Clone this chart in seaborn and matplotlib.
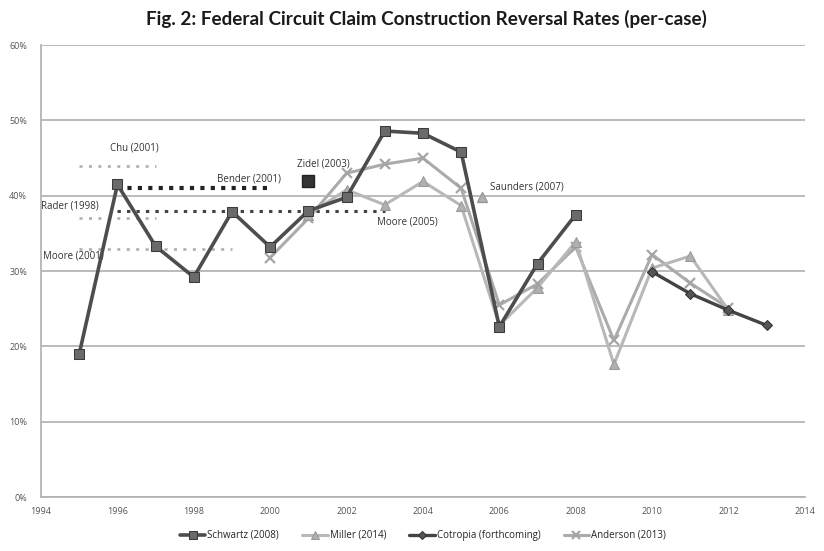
import numpy as np
import pandas as pd
import seaborn as sns
import matplotlib.pyplot as plt

# series (percent)
schwartz_years = [1995, 1996, 1997, 1998, 1999, 2000, 2001, 2002, 2003, 2004, 2005, 2006, 2007, 2008]
schwartz = [19.0, 41.5, 33.3, 29.2, 37.9, 33.2, 38.0, 39.8, 48.6, 48.3, 45.8, 22.6, 31.0, 37.5]

miller_years = [2001, 2002, 2003, 2004, 2005, 2006, 2007, 2008, 2009, 2010, 2011, 2012]
miller = [37.5, 40.8, 38.8, 41.9, 38.7, 22.8, 27.8, 33.9, 17.6, 30.4, 32.0, 24.8]

cotropia_years = [2010, 2011, 2012, 2013]
cotropia = [29.9, 27.0, 24.8, 22.8]

anderson_years = [2000, 2001, 2002, 2003, 2004, 2005, 2006, 2007, 2008, 2009, 2010, 2011, 2012]
anderson = [31.8, 37.0, 43.0, 44.2, 45.0, 41.0, 25.5, 28.3, 33.2, 20.8, 32.2, 28.4, 25.1]

# single-point studies
zidel_year, zidel = 2001, 42.0
saunders_year, saunders = 2005.55, 39.8

# dotted reference studies: start year, end year, value
chu = (1995, 1997, 44.0)
bender = (1996, 2000, 41.0)
rader = (1996, 2003, 38.0)
rader_low = (1995, 1997, 37.0)
moore01 = (1995, 1999, 33.0)

sns.set_theme(style="white")
plt.rcParams['font.family'] = ['Open Sans', 'DejaVu Sans']

fig = plt.figure(figsize=(8.24, 5.51), dpi=100)
ax = fig.add_axes([0.0498, 0.098, 0.927, 0.820])

# reference dotted lines
for (x0, x1, v), c, lw, ls in [(chu, "#b3b3b3", 2.0, (0, (1.1, 2.3))),
                               (rader_low, "#b3b3b3", 2.0, (0, (1.1, 2.3))),
                               (moore01, "#b3b3b3", 2.0, (0, (1.1, 2.3))),
                               (bender, "#222222", 3.0, (0, (1.0, 1.5))),
                               (rader, "#444444", 2.2, (0, (1.1, 2.0)))]:
    ax.plot([x0, x1], [v, v], color=c, lw=lw, ls=ls, zorder=2)

sns.lineplot(x=anderson_years, y=anderson, ax=ax, color="#ababab", lw=2.2,
             marker="x", markersize=6.5, mew=1.6, mec="#a5a5a5",
             label="Anderson (2013)", zorder=3)
sns.lineplot(x=miller_years, y=miller, ax=ax, color="#b8b8b8", lw=2.2,
             marker="^", markersize=7, mfc="#b0b0b0", mec="#999999",
             label="Miller (2014)", zorder=3)
sns.lineplot(x=cotropia_years, y=cotropia, ax=ax, color="#444444", lw=2.4,
             marker="D", markersize=5.5, mfc="#555555", mec="#333333",
             label="Cotropia (forthcoming)", zorder=4)
sns.lineplot(x=schwartz_years, y=schwartz, ax=ax, color="#4d4d4d", lw=2.6,
             marker="s", markersize=7, mfc="#6a6a6a", mec="#3a3a3a",
             label="Schwartz (2008)", zorder=5)

ax.plot([zidel_year], [zidel], marker="s", markersize=8, color="#333333",
        mec="#222222", zorder=5)
ax.plot([saunders_year], [saunders], marker="^", markersize=7, color="#b0b0b0",
        mec="#999999", zorder=5)

fs = 7
ax.text(1995.8, 46.0, "Chu (2001)", fontsize=fs, color="#333333")
ax.text(1998.6, 41.9, "Bender (2001)", fontsize=fs, color="#333333")
ax.text(2000.7, 43.9, "Zidel (2003)", fontsize=fs, color="#333333")
ax.text(1994.0, 38.3, "Rader (1998)", fontsize=fs, color="#333333")
ax.text(1994.05, 31.7, "Moore (2001)", fontsize=fs, color="#333333")
ax.text(2002.8, 36.2, "Moore (2005)", fontsize=fs, color="#333333")
ax.text(2005.75, 40.8, "Saunders (2007)", fontsize=fs, color="#333333")

ax.set_xlim(1994, 2014)
ax.set_ylim(0, 60)
ax.set_xticks(np.arange(1994, 2015, 2))
ax.set_yticks(np.arange(0, 61, 10))
ax.set_yticklabels([f"{v}%" for v in range(0, 61, 10)])
ax.tick_params(axis="both", labelsize=6.5, colors="#555555", length=4,
               width=1, direction="out", pad=3)
ax.tick_params(axis="y", length=7, color="#b5b5b5")
ax.tick_params(axis="x", color="#b5b5b5")
ax.yaxis.grid(True, color="#b5b5b5", lw=1.3)
ax.set_axisbelow(True)
for s in ["top", "right"]:
    ax.spines[s].set_visible(False)
for s in ["left", "bottom"]:
    ax.spines[s].set_color("#b5b5b5")
    ax.spines[s].set_linewidth(1.3)
ax.set_xlabel("")
ax.set_ylabel("")

handles, labels = ax.get_legend_handles_labels()
order = ["Schwartz (2008)", "Miller (2014)", "Cotropia (forthcoming)", "Anderson (2013)"]
hmap = dict(zip(labels, handles))
ax.legend([hmap[k] for k in order], order, loc="center", bbox_to_anchor=(0.5, -0.085),
          ncol=4, frameon=False, fontsize=7, handlelength=2.6, columnspacing=2.4,
          handletextpad=0.2, markerscale=0.8)

fig.text(0.517, 0.966, "Fig. 2: Federal Circuit Claim Construction Reversal Rates (per-case)",
         ha="center", va="center", fontsize=13.6, fontweight="bold", color="#1a1a1a",
         family=["Lato", "DejaVu Sans"])

fig.savefig("out.png", dpi=100)
